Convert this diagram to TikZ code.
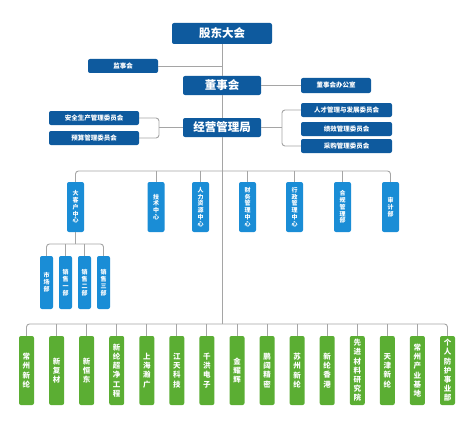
\documentclass[tikz,border=0pt]{standalone}
\usepackage{fontspec}
\setmainfont{Noto Sans CJK SC}
\definecolor{dblue}{HTML}{0E5A9E}
\definecolor{lblue}{HTML}{1A8DD6}
\definecolor{lgreen}{HTML}{5BAE33}
\definecolor{lgray}{HTML}{A5A5A5}
\tikzset{
  base/.style={rectangle, rounded corners=2pt, inner sep=0pt, text=white, font=\bfseries},
  bigbox/.style={base, fill=dblue, font=\bfseries\fontsize{11.5}{12}\selectfont},
  dbox/.style={base, fill=dblue, minimum height=14pt, font=\bfseries\fontsize{6.5}{7}\selectfont},
  deptbox/.style={base, fill=lblue, minimum width=17pt, minimum height=50pt, align=center, font=\bfseries\fontsize{6}{6.8}\selectfont},
  subbox/.style={base, fill=lblue, minimum width=13pt, minimum height=53pt, align=center, font=\bfseries\fontsize{6}{7}\selectfont},
  gbox/.style={base, fill=lgreen, minimum width=15pt, minimum height=69pt, align=center, font=\bfseries\fontsize{7.5}{9.2}\selectfont},
  conn/.style={draw=lgray, line width=0.9pt},
}
\begin{document}
\begin{tikzpicture}[x=1pt, y=-1pt]
\useasboundingbox[fill=white] (0,0) rectangle (474,428);
% top level
\node[bigbox, minimum width=100pt, minimum height=21pt] (gd) at (222,33.5) {股东大会};
\node[dbox, minimum width=70pt] (jsh) at (123,66) {监事会};
\node[bigbox, minimum width=78pt, minimum height=19pt] (dsh) at (222,85.5) {董事会};
\node[dbox, minimum width=70pt, minimum height=15pt] (dsb) at (336,85.5) {董事会办公室};
\node[bigbox, minimum width=78pt, minimum height=19pt] (jy) at (222,127.5) {经营管理局};
\node[dbox, minimum width=90pt] (aq) at (94,118) {安全生产管理委员会};
\node[dbox, minimum width=90pt] (ys) at (94,138) {预算管理委员会};
\node[dbox, minimum width=91pt] (rc) at (346.5,110) {人才管理与发展委员会};
\node[dbox, minimum width=91pt] (jx) at (346.5,129) {绩效管理委员会};
\node[dbox, minimum width=91pt] (cg) at (346.5,146) {采购管理委员会};
% departments
\node[deptbox] (d1) at (75.5,207) {大\\客\\户\\中\\心};
\node[deptbox] (d2) at (156,207) {技\\术\\中\\心};
\node[deptbox] (d3) at (200.5,207) {人\\力\\资\\源\\中\\心};
\node[deptbox] (d4) at (247.5,207) {财\\务\\管\\理\\中\\心};
\node[deptbox] (d5) at (294.5,207) {行\\政\\管\\理\\中\\心};
\node[deptbox] (d6) at (342.5,207) {合\\规\\管\\理\\部};
\node[deptbox] (d7) at (390.5,207) {审\\计\\部};
% sub departments
\node[subbox] (s1) at (46.5,282.5) {市\\场\\部};
\node[subbox] (s2) at (65.5,282.5) {销\\售\\一\\部};
\node[subbox] (s3) at (84.5,282.5) {销\\售\\二\\部};
\node[subbox] (s4) at (103.5,282.5) {销\\售\\三\\部};
% companies
\node[gbox] (g1) at (26.5,370.5) {常\\州\\新\\纶};
\node[gbox] (g2) at (56.6,370.5) {新\\复\\材};
\node[gbox] (g3) at (86.6,370.5) {新\\恒\\东};
\node[gbox] (g4) at (116.7,370.5) {新\\纶\\超\\净\\工\\程};
\node[gbox] (g5) at (146.8,370.5) {上\\海\\瀚\\广};
\node[gbox] (g6) at (176.8,370.5) {江\\天\\科\\技};
\node[gbox] (g7) at (206.9,370.5) {千\\洪\\电\\子};
\node[gbox] (g8) at (237.0,370.5) {金\\耀\\辉};
\node[gbox] (g9) at (267.1,370.5) {鹏\\阔\\精\\密};
\node[gbox] (g10) at (297.1,370.5) {苏\\州\\新\\纶};
\node[gbox] (g11) at (327.2,370.5) {新\\纶\\香\\港};
\node[gbox] (g12) at (357.3,370.5) {先\\进\\材\\料\\研\\究\\院};
\node[gbox] (g13) at (387.3,370.5) {天\\津\\新\\纶};
\node[gbox] (g14) at (417.4,370.5) {常\\州\\产\\业\\基\\地};
\node[gbox] (g15) at (447.5,370.5) {个\\人\\防\\护\\事\\业\\部};
% bus coordinates
\coordinate (dbus) at (222,171);
\coordinate (gbus) at (222,324);
\coordinate (sbus) at (75.5,244);
\coordinate (lbr) at (159,127.5);
\coordinate (rbr) at (282,127.5);
% connectors
\draw[conn] (gd.south) -- (dsh.north);
\draw[conn] (dsh.south) -- (jy.north);
\draw[conn] (jy.south) -- (gbus);
\draw[conn] (jsh.east) -- (jsh.east -| gd.south);
\draw[conn] (dsh.east) -- (dsb.west);
\draw[conn, rounded corners=3pt] (aq.east) -| (lbr) |- (ys.east);
\draw[conn] (jy.west) -- (lbr);
\draw[conn, rounded corners=3pt] (rc.west) -| (rbr) |- (cg.west);
\draw[conn] (jy.east) -- (rbr);
\draw[conn, rounded corners=3pt] (d1.north) |- (dbus) -| (d7.north);
\foreach \n in {d2,d3,d4,d5,d6} \draw[conn] (\n.north) -- (\n.north |- dbus);
\draw[conn] (d1.south) -- (sbus);
\draw[conn, rounded corners=3pt] (s1.north) |- (sbus) -| (s4.north);
\foreach \n in {s2,s3} \draw[conn] (\n.north) -- (\n.north |- sbus);
\draw[conn, rounded corners=3pt] (g1.north) |- (gbus) -| (g15.north);
\foreach \n in {g2,g3,g4,g5,g6,g7,g8,g9,g10,g11,g12,g13,g14} \draw[conn] (\n.north) -- (\n.north |- gbus);
\end{tikzpicture}
\end{document}
